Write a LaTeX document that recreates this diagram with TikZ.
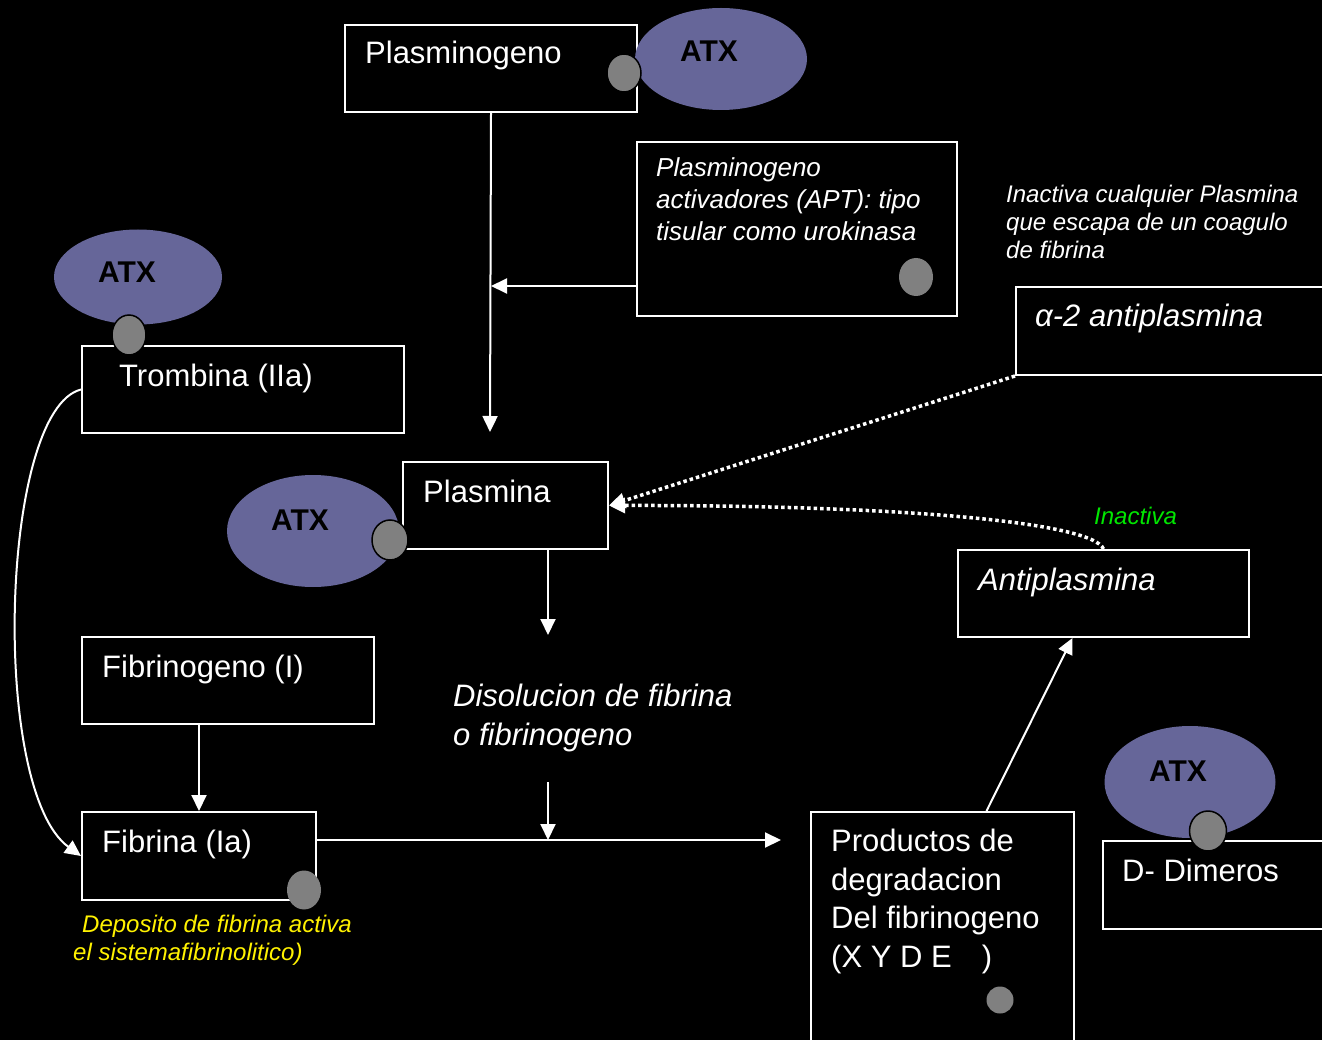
\documentclass[tikz,border=0pt]{standalone}
\usepackage{xcolor}
\usepackage{fontspec}
\setmainfont{Liberation Sans}
\usetikzlibrary{shapes.geometric,arrows.meta}

\definecolor{atxblue}{RGB}{102,102,153}
\definecolor{sitegray}{RGB}{128,128,128}
\definecolor{inactgreen}{RGB}{0,230,0}

\tikzset{
  box/.style={draw=white, line width=2pt, anchor=north west, inner sep=0pt},
  atx/.style={ellipse, fill=atxblue, inner sep=0pt},
  atxtxt/.style={text=black, inner sep=0pt, font=\fontsize{30}{36}\selectfont\bfseries},
  site/.style={ellipse, fill=sitegray, inner sep=0pt},
  lbl/.style={text=white, anchor=base west, inner sep=0pt, align=left, font=\fontsize{31}{38.5}\selectfont},
  note/.style={lbl, font=\itshape\fontsize{24}{28}\selectfont},
  conn/.style={draw=white, line width=2pt, -{Triangle[length=16pt,width=15pt]}},
  dotconn/.style={draw=white, line width=3.5pt, dash pattern=on 3.5pt off 3pt, -{Triangle[length=16pt,width=15pt]}},
}

\begin{document}
\begin{tikzpicture}[x=1pt, y=-1pt]
    \useasboundingbox (0,0) rectangle (1322,1040);
    \fill[black] (0,0) rectangle (1322,1040);
    % plasminogeno and activators
    \node[box, minimum width=292pt, minimum height=87pt] (plg) at (344,24) {};
    \node[lbl] (plgt) at (365,64) {Plasminogeno};
    \node[atx, minimum width=172pt, minimum height=102pt] (atxa) at (721,59) {};
    \node[atxtxt] (atxat) at (709,51) {ATX};
    \node[site, draw=black, line width=1.5pt, minimum width=34pt, minimum height=38pt] (sa) at (624,73) {};
    \node[box, minimum width=320pt, minimum height=174pt] (apt) at (636,141) {};
    \node[lbl, font=\itshape\fontsize{26}{32}\selectfont] (aptt) at (656,241) {Plasminogeno\\activadores (APT): tipo\\tisular como urokinasa};
    \node[site, minimum width=34pt, minimum height=38pt] (sb) at (916,277) {};
    % antiplasmina side
    \node[note] (inact) at (1006,259) {Inactiva cualquier Plasmina\\que escapa de un coagulo\\de fibrina};
    \node[box, minimum width=330pt, minimum height=88pt] (a2p) at (1015,286) {};
    \node[lbl, font=\itshape\fontsize{31}{38.5}\selectfont] (a2pt) at (1035,327) {α-2 antiplasmina};
    \node[box, minimum width=291pt, minimum height=87pt] (anti) at (957,549) {};
    \node[lbl, font=\itshape\fontsize{31}{38.5}\selectfont] (antit) at (978,590) {Antiplasmina};
    \node[note, text=inactgreen] (inactg) at (1094,524) {Inactiva};
    % trombina
    \node[atx, minimum width=168pt, minimum height=95pt] (atxb) at (138,277) {};
    \node[atxtxt] (atxbt) at (127,272) {ATX};
    \node[box, minimum width=322pt, minimum height=87pt] (trb) at (81,345) {};
    \node[lbl] (trbt) at (119,386) {Trombina (IIa)};
    \node[site, draw=black, line width=1.5pt, minimum width=34pt, minimum height=40pt] (sc) at (129,335) {};
    % plasmina
    \node[box, minimum width=205pt, minimum height=87pt] (pla) at (402,461) {};
    \node[lbl] (plat) at (423,502) {Plasmina};
    \node[atx, minimum width=172pt, minimum height=112pt] (atxc) at (313,531) {};
    \node[atxtxt] (atxct) at (300,520) {ATX};
    \node[site, draw=black, line width=1.5pt, minimum width=36pt, minimum height=40pt] (sd) at (390,540) {};
    % fibrinogeno / fibrina
    \node[box, minimum width=292pt, minimum height=87pt] (fbg) at (81,636) {};
    \node[lbl] (fbgt) at (102,677) {Fibrinogeno (I)};
    \node[box, minimum width=234pt, minimum height=88pt] (fib) at (81,811) {};
    \node[lbl] (fibt) at (102,852) {Fibrina (Ia)};
    \node[site, minimum width=34pt, minimum height=39pt] (se) at (304,890) {};
    \node[note, text=yellow] (depo) at (73,960) {\hspace*{9pt}Deposito de fibrina activa\\el sistemafibrinolitico)};
    \node[lbl, font=\itshape\fontsize{31}{39}\selectfont] (dis) at (453,745) {Disolucion de fibrina\\o fibrinogeno};
    % productos and dimeros
    \node[box, minimum width=263pt, minimum height=240pt] (pdd) at (810,811) {};
    \node[lbl] (pddt) at (831,967) {Productos de\\degradacion\\Del fibrinogeno\\(X Y D E\hspace{30pt})};
    \node[site, minimum width=27pt, minimum height=27pt] (sf) at (1000,1000) {};
    \node[atx, minimum width=171pt, minimum height=112pt] (atxd) at (1190,782) {};
    \node[atxtxt] (atxdt) at (1178,771) {ATX};
    \node[box, minimum width=240pt, minimum height=88pt] (ddm) at (1102,840) {};
    \node[lbl] (ddmt) at (1122,881) {D- Dimeros};
    \node[site, draw=black, line width=1.5pt, minimum width=37pt, minimum height=40pt] (sg) at (1208,831) {};
    % connectors
    \coordinate (plaTop) at (490,432);
    \coordinate (aptIn) at (636,286);
    \coordinate (disTop) at (548,635);
    \coordinate (disBot) at (548,782);
    \coordinate (prodIn) at (781,840);
    \draw[conn] (plg.south) -- (plaTop);
    \draw[conn] (aptIn) -- (aptIn -| plg.south);
    \draw[conn] (pla.south -| disTop) -- (disTop);
    \draw[dotconn] (a2p.south west) -- (pla.east);
    \draw[dotconn] (anti.north) .. controls (1092,522) and (900,505) .. (pla.east);
    \draw[conn] (trb.west) .. controls (0,410) and (-10,790) .. (fib.west);
    \draw[conn] (fib.north |- fbg.south) -- (fib.north);
    \draw[conn] (fib.east |- prodIn) -- (prodIn);
    \draw[conn] (disBot) -- (disBot |- prodIn);
    \draw[conn] ([xshift=44pt]pdd.north) -- ([xshift=-31pt]anti.south);
\end{tikzpicture}
\end{document}
